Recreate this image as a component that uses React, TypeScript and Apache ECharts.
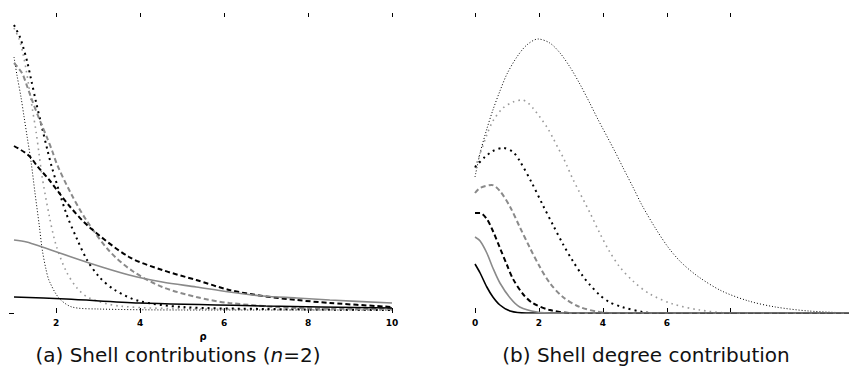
import React, { useEffect, useRef } from "react";
import * as echarts from "echarts";

// ---- Left panel: shell contributions (n=2), x = rho ----
const leftSolidBlack = [[1, 0.16], [2.24, 0.14], [3.98, 0.1], [7, 0.07], [10, 0.05]];
const leftSolidGray = [[1, 0.73], [1.3, 0.71], [1.67, 0.66], [2.79, 0.5], [3.74, 0.38], [4.53, 0.31], [5.34, 0.26], [6.13, 0.21], [6.92, 0.17], [7.73, 0.15], [8.52, 0.13], [10, 0.1]];
const leftDashBlack = [[1, 1.67], [1.24, 1.61], [1.41, 1.55], [1.55, 1.47], [1.84, 1.33], [2.3, 1.08], [2.79, 0.86], [3.74, 0.56], [4.53, 0.43], [5.34, 0.33], [6.13, 0.23], [6.92, 0.17], [7.73, 0.13], [8.52, 0.1], [10, 0.06]];
const leftDashGray = [[1, 2.5], [1.19, 2.4], [1.31, 2.27], [1.41, 2.15], [1.64, 1.9], [1.79, 1.75], [1.91, 1.62], [2.03, 1.48], [2.35, 1.2], [2.72, 0.93], [3.27, 0.62], [3.82, 0.42], [4.53, 0.26], [5.34, 0.16], [6.13, 0.1], [7.73, 0.05], [10, 0.04]];
const leftDotBlack = [[1, 2.88], [1.14, 2.76], [1.21, 2.67], [1.31, 2.52], [1.41, 2.33], [1.53, 2.1], [1.67, 1.85], [1.79, 1.64], [1.9, 1.46], [2.24, 1.0], [2.5, 0.74], [2.74, 0.53], [3.03, 0.36], [3.4, 0.23], [3.98, 0.12], [5, 0.06], [7, 0.04], [10, 0.03]];
const leftDotGray = [[1, 2.85], [1.12, 2.74], [1.21, 2.6], [1.29, 2.43], [1.36, 2.25], [1.43, 2.06], [1.53, 1.8], [1.6, 1.58], [1.67, 1.36], [1.84, 0.97], [2.0, 0.68], [2.24, 0.42], [2.5, 0.25], [2.79, 0.15], [3.5, 0.07], [5.4, 0.04], [10, 0.03]];
const leftFineDot = [[1, 2.56], [1.07, 2.38], [1.17, 2.15], [1.24, 1.96], [1.31, 1.77], [1.41, 1.5], [1.5, 1.2], [1.6, 0.88], [1.67, 0.64], [1.76, 0.44], [1.84, 0.32], [2.07, 0.15], [2.38, 0.06], [3, 0.04], [5, 0.03], [10, 0.03]];

// ---- Right panel: shell degree contribution ----
const rightSolidBlack = [[0, 0.49], [0.16, 0.4], [0.37, 0.26], [0.56, 0.16], [0.78, 0.08], [1.1, 0.02], [1.6, 0], [11.7, 0]];
const rightSolidGray = [[0, 0.76], [0.16, 0.72], [0.37, 0.6], [0.56, 0.45], [0.78, 0.3], [1.1, 0.15], [1.4, 0.06], [1.94, 0.01], [2.5, 0], [11.7, 0]];
const rightDashBlack = [[0, 1.0], [0.16, 1.0], [0.37, 0.94], [0.56, 0.82], [0.78, 0.65], [1.0, 0.48], [1.19, 0.34], [1.5, 0.19], [1.8, 0.1], [2.34, 0.03], [3.0, 0], [11.7, 0]];
const rightDashGray = [[0, 1.2], [0.16, 1.25], [0.53, 1.28], [0.78, 1.22], [1.1, 1.06], [1.4, 0.86], [1.72, 0.65], [2.03, 0.46], [2.34, 0.3], [2.75, 0.16], [3.28, 0.06], [3.9, 0.01], [4.5, 0], [11.7, 0]];
const rightDotBlack = [[0, 1.46], [0.31, 1.56], [0.56, 1.62], [0.875, 1.65], [1.19, 1.61], [1.4, 1.52], [1.78, 1.3], [2.12, 1.08], [2.44, 0.88], [2.75, 0.69], [3.06, 0.52], [3.37, 0.37], [3.6, 0.28], [3.9, 0.18], [4.2, 0.11], [4.6, 0.06], [5.25, 0.01], [5.7, 0], [11.7, 0]];
const rightDotGray = [[0, 1.45], [0.37, 1.78], [0.56, 1.92], [0.875, 2.05], [1.19, 2.11], [1.47, 2.13], [1.66, 2.1], [1.81, 2.05], [2.03, 1.96], [2.25, 1.86], [2.44, 1.75], [2.6, 1.65], [2.75, 1.56], [2.88, 1.47], [3.06, 1.34], [3.6, 1.0], [3.9, 0.8], [4.2, 0.62], [4.53, 0.46], [4.94, 0.32], [5.47, 0.19], [6.19, 0.09], [7.03, 0.03], [7.97, 0], [11.7, 0]];
const rightFineDot = [[0, 1.36], [0.16, 1.6], [0.37, 1.84], [0.56, 2.03], [0.78, 2.22], [1.0, 2.39], [1.31, 2.56], [1.62, 2.68], [1.97, 2.74], [2.34, 2.7], [2.66, 2.6], [2.97, 2.46], [3.28, 2.29], [3.59, 2.1], [3.84, 1.94], [4.37, 1.62], [4.62, 1.46], [4.94, 1.26], [5.22, 1.08], [5.66, 0.84], [6.06, 0.65], [6.47, 0.5], [7.0, 0.36], [7.72, 0.22], [8.56, 0.12], [9.4, 0.06], [10.44, 0.02], [11.7, 0]];

const leftTicks = [2, 4, 6, 8, 10];
const rightTicks = [0, 2, 4, 6, 8];
const rightLabels = [0, 2, 4, 6];

const captionA = "(a) Shell contributions ({i|n}=2)";
const captionB = "(b) Shell degree contribution";

const FONT = '"DejaVu Sans", Verdana, sans-serif';

const styles: Record<string, any> = {
  solidBlack: { color: "#000", width: 1.6, type: "solid" },
  solidGray: { color: "#8a8a8a", width: 1.6, type: "solid" },
  dashBlack: { color: "#000", width: 2, type: [5, 3] },
  dashGray: { color: "#8a8a8a", width: 2, type: [5, 3] },
  dotBlack: { color: "#000", width: 2, type: [2, 4] },
  dotGray: { color: "#9a9a9a", width: 1.6, type: [1.6, 4] },
  fineDot: { color: "#000", width: 1, type: [1, 2] },
};

function mk(data: number[][], style: string, idx: number) {
  return {
    type: "line",
    data,
    xAxisIndex: idx,
    yAxisIndex: idx === 0 ? 0 : 1,
    showSymbol: false,
    symbol: "none",
    smooth: 0.3,
    lineStyle: styles[style],
    silent: true,
  };
}

export default function App() {
  const ref = useRef<HTMLDivElement>(null);
  useEffect(() => {
    if (!ref.current) return;
    const chart = echarts.init(ref.current, null, { renderer: "svg" });
    const labelStyle = { fontFamily: FONT, fontWeight: "bold", fontSize: 9, color: "#000", margin: 5 };
    const option: any = {
      animation: false,
      backgroundColor: "#fff",
      grid: [
        { left: 14, top: 13, width: 378, bottom: 57 },
        { left: 475, top: 13, right: 0, bottom: 57 },
      ],
      xAxis: [
        {
          type: "value", gridIndex: 0, min: 1, max: 10, position: "bottom",
          axisLine: { show: false }, splitLine: { show: false },
          axisTick: { show: true, inside: true, length: 5, customValues: leftTicks, lineStyle: { color: "#000" } },
          axisLabel: { ...labelStyle, customValues: leftTicks },
          name: "ρ", nameLocation: "middle", nameGap: 8,
          nameTextStyle: { fontFamily: FONT, fontWeight: "bold", fontSize: 10, color: "#000" },
        },
        {
          type: "value", gridIndex: 0, min: 1, max: 10, position: "top",
          axisLine: { show: false }, splitLine: { show: false }, axisLabel: { show: false },
          axisTick: { show: true, inside: true, length: 4, customValues: leftTicks, lineStyle: { color: "#000" } },
        },
        {
          type: "value", gridIndex: 1, min: 0, max: 11.7, position: "bottom",
          axisLine: { show: false }, splitLine: { show: false },
          axisTick: { show: true, inside: true, length: 5, customValues: rightTicks, lineStyle: { color: "#000" } },
          axisLabel: { ...labelStyle, customValues: rightLabels },
        },
        {
          type: "value", gridIndex: 1, min: 0, max: 11.7, position: "top",
          axisLine: { show: false }, splitLine: { show: false }, axisLabel: { show: false },
          axisTick: { show: true, inside: true, length: 4, customValues: rightTicks, lineStyle: { color: "#000" } },
        },
      ],
      yAxis: [
        {
          type: "value", gridIndex: 0, min: 0, max: 3,
          axisLine: { show: false }, splitLine: { show: false }, axisLabel: { show: false },
          axisTick: { show: true, length: 5, customValues: [0], lineStyle: { color: "#000" } },
        },
        {
          type: "value", gridIndex: 1, min: 0, max: 3, show: false,
          splitLine: { show: false },
        },
      ],
      series: [
        mk(leftFineDot, "fineDot", 0),
        mk(leftDotGray, "dotGray", 0),
        mk(leftDotBlack, "dotBlack", 0),
        mk(leftDashGray, "dashGray", 0),
        mk(leftDashBlack, "dashBlack", 0),
        mk(leftSolidGray, "solidGray", 0),
        mk(leftSolidBlack, "solidBlack", 0),
        mk(rightFineDot, "fineDot", 2),
        mk(rightDotGray, "dotGray", 2),
        mk(rightDotBlack, "dotBlack", 2),
        mk(rightDashGray, "dashGray", 2),
        mk(rightDashBlack, "dashBlack", 2),
        mk(rightSolidBlack, "solidBlack", 2),
        mk(rightSolidGray, "solidGray", 2),
      ],
      graphic: [
        {
          type: "text", x: 178, y: 355,
          style: {
            text: captionA, fill: "#111", font: `20px ${FONT}`,
            align: "center", verticalAlign: "middle",
            rich: { i: { fontStyle: "italic", fontSize: 20, fontFamily: FONT, fill: "#111" } },
          },
        },
        {
          type: "text", x: 646, y: 355,
          style: { text: captionB, fill: "#111", font: `20px ${FONT}`, align: "center", verticalAlign: "middle" },
        },
      ],
    };
    chart.setOption(option);
    return () => chart.dispose();
  }, []);
  return (
    <div
      ref={ref}
      style={{ position: "fixed", left: 0, top: 0, width: 849, height: 370, background: "#fff" }}
    />
  );
}
